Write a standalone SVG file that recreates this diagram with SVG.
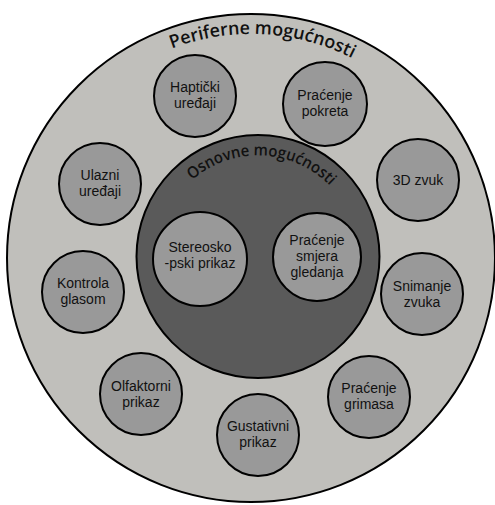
<svg xmlns="http://www.w3.org/2000/svg" width="495" height="505" viewBox="0 0 495 505">
<defs>
<style>
.outer{fill:#c0bfbb;stroke:#000;stroke-width:2}
.core{fill:#5a5a5a;stroke:#000;stroke-width:2}
.n{fill:#999999;stroke:#000;stroke-width:2}
.t{font-family:"Liberation Sans",Arial,sans-serif;font-size:14px;fill:#111;text-anchor:middle}
.arc{font-family:"Open Sans","Noto Sans",sans-serif;font-weight:600;fill:#111;text-anchor:middle}
</style>
<path id="outerArc" d="M 27 258 A 224 224 0 0 1 475 258"/>
<path id="innerArc" d="M 157 256.5 A 101 101 0 0 1 359 256.5"/>
</defs>
<g id="periferne">
<circle class="outer" cx="251" cy="258" r="244"/>
<text class="arc" font-size="18"><textPath href="#outerArc" startOffset="363.6" textLength="186" lengthAdjust="spacingAndGlyphs">Periferne mogućnosti</textPath></text>
</g>
<g id="osnovne">
<circle class="core" cx="258" cy="256.5" r="121.5"/>
<text class="arc" font-size="16" font-weight="400"><textPath href="#innerArc" startOffset="162.5" textLength="152" lengthAdjust="spacingAndGlyphs">Osnovne mogućnosti</textPath></text>
</g>
<g id="connectors"/>
<g id="hapticki"><circle class="n" cx="195" cy="96" r="41"/><text class="t" x="195" y="91.5">Haptički<tspan x="195" dy="16">uređaji</tspan></text></g>
<g id="pracenje-pokreta"><circle class="n" cx="325" cy="104" r="42"/><text class="t" x="325" y="99.5">Praćenje<tspan x="325" dy="16">pokreta</tspan></text></g>
<g id="zvuk3d"><circle class="n" cx="418" cy="180" r="41"/><text class="t" x="418" y="185">3D zvuk</text></g>
<g id="ulazni"><circle class="n" cx="100" cy="184" r="41"/><text class="t" x="100" y="179.5">Ulazni<tspan x="100" dy="16">uređaji</tspan></text></g>
<g id="stereo"><circle class="n" cx="200" cy="259" r="47"/><text class="t" x="200" y="251.5">Stereosko<tspan x="200" dy="16">-pski prikaz</tspan></text></g>
<g id="pracenje-smjera"><circle class="n" cx="317" cy="257" r="44"/><text class="t" x="317" y="245">Praćenje<tspan x="317" dy="16">smjera</tspan><tspan x="317" dy="16">gledanja</tspan></text></g>
<g id="kontrola"><circle class="n" cx="83" cy="292" r="41"/><text class="t" x="83" y="287.5">Kontrola<tspan x="83" dy="16">glasom</tspan></text></g>
<g id="snimanje"><circle class="n" cx="422" cy="294" r="41"/><text class="t" x="422" y="290.5">Snimanje<tspan x="422" dy="16">zvuka</tspan></text></g>
<g id="olfaktorni"><circle class="n" cx="141" cy="394" r="41"/><text class="t" x="141" y="390.5">Olfaktorni<tspan x="141" dy="16">prikaz</tspan></text></g>
<g id="gustativni"><circle class="n" cx="258" cy="435" r="41"/><text class="t" x="258" y="430.5">Gustativni<tspan x="258" dy="16">prikaz</tspan></text></g>
<g id="grimase"><circle class="n" cx="369" cy="397" r="41"/><text class="t" x="369" y="392.5">Praćenje<tspan x="369" dy="16">grimasa</tspan></text></g>
</svg>
